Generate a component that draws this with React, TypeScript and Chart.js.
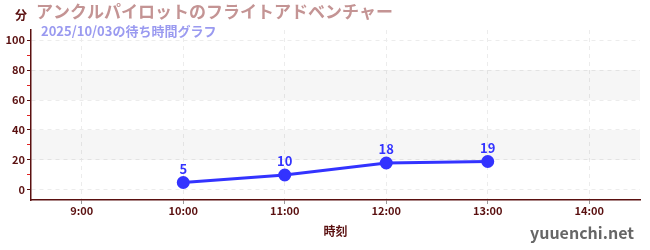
import React, { useEffect, useRef } from "react";
import { Chart, registerables } from "chart.js";

Chart.register(...registerables);

const hours = [10, 11, 12, 13];
const waits = [5, 10, 18, 19];
const xTicks = [9, 10, 11, 12, 13, 14];
const yTicks = [0, 10, 20, 30, 40, 50, 60, 70, 80, 90, 100];
const bands = [[20, 40], [60, 80]];
const title = "アンクルパイロットのフライトアドベンチャー";
const subtitle = "2025/10/03の待ち時間グラフ";
const yUnit = "分";
const xTitle = "時刻";
const watermark = "yuuenchi.net";

const FONT = "'Noto Sans CJK JP', 'Noto Sans', sans-serif";
const DARK = "#5a1010";
const BLUE = "#3333ff";

const overlay = {
  id: "overlay",
  beforeDatasetsDraw(chart: any) {
    const { ctx, chartArea, scales } = chart;
    const y = scales.y;
    ctx.save();
    ctx.fillStyle = "rgba(0,0,0,0.035)";
    for (const [a, b] of bands) {
      const t = y.getPixelForValue(b);
      const bt = y.getPixelForValue(a);
      ctx.fillRect(chartArea.left, t, chartArea.right - chartArea.left, bt - t);
    }
    ctx.restore();
  },
  afterDatasetsDraw(chart: any) {
    const { ctx } = chart;
    const meta = chart.getDatasetMeta(0);
    ctx.save();
    ctx.fillStyle = BLUE;
    ctx.font = `bold 13px ${FONT}`;
    ctx.textAlign = "center";
    ctx.textBaseline = "bottom";
    meta.data.forEach((pt: any, i: number) => {
      ctx.fillText(String(waits[i]), pt.x, pt.y - 7);
    });
    ctx.restore();
  },
  afterDraw(chart: any) {
    const { ctx, chartArea } = chart;
    ctx.save();
    ctx.textBaseline = "middle";
    ctx.textAlign = "left";
    ctx.fillStyle = "#c49494";
    ctx.font = `bold 17px ${FONT}`;
    ctx.fillText(title, 36, 12);
    ctx.fillStyle = "#9a9af0";
    ctx.font = `bold 13px ${FONT}`;
    ctx.fillText(subtitle, 41, 31);
    ctx.fillStyle = DARK;
    ctx.font = `bold 12px ${FONT}`;
    ctx.textAlign = "center";
    ctx.fillText(yUnit, 21, 15);
    ctx.fillText(xTitle, (chartArea.left + chartArea.right) / 2, 231);
    ctx.fillStyle = "#666";
    ctx.font = `bold 16px ${FONT}`;
    ctx.textAlign = "right";
    ctx.fillText(watermark, 634, 233);
    ctx.restore();
  },
};

export default function App() {
  const ref = useRef<HTMLCanvasElement>(null);
  useEffect(() => {
    document.body.style.margin = "0";
    const chart = new Chart(ref.current!, {
      type: "line",
      data: {
        datasets: [
          {
            data: hours.map((h, i) => ({ x: h, y: waits[i] })),
            borderColor: BLUE,
            backgroundColor: BLUE,
            borderWidth: 3,
            pointRadius: 5,
            pointHoverRadius: 5,
            tension: 0,
          },
        ],
      },
      options: {
        animation: false,
        responsive: false,
        layout: { padding: { top: 30, right: 10, left: 0, bottom: 0 } },
        plugins: { legend: { display: false }, tooltip: { enabled: false } },
        scales: {
          x: {
            type: "linear",
            min: 8.5,
            max: 14.5,
            afterBuildTicks: (s: any) => {
              s.ticks = xTicks.map((v) => ({ value: v }));
            },
            afterFit: (s: any) => {
              s.height = 50;
            },
            ticks: {
              autoSkip: false,
              maxRotation: 0,
              color: DARK,
              font: { family: FONT, size: 11, weight: "bold" },
              padding: 0,
              callback: (v: any) => `${v}:00`,
            },
            grid: {
              color: "#ececec",
              tickColor: "#999",
              tickLength: 4,
            },
            border: { color: DARK, width: 1.5, dash: [4, 4] as any },
          } as any,
          y: {
            min: -6.67,
            max: 106.67,
            afterBuildTicks: (s: any) => {
              s.ticks = yTicks.map((v) => ({ value: v }));
            },
            afterFit: (s: any) => {
              s.width = 31;
            },
            ticks: {
              autoSkip: false,
              color: DARK,
              font: { family: FONT, size: 11, weight: "bold" },
              padding: 2,
              callback: (v: any) => (v % 20 === 0 ? String(v) : ""),
            },
            grid: {
              color: (c: any) => (c.tick && c.tick.value % 20 === 0 ? "#ececec" : "rgba(0,0,0,0)"),
              tickColor: (c: any) => (c.tick && c.tick.value % 20 === 0 ? DARK : "#e02020"),
              tickLength: 4,
            },
            border: { color: DARK, width: 1.5, dash: [4, 4] as any },
          } as any,
        },
      } as any,
      plugins: [overlay],
    });
    return () => chart.destroy();
  }, []);
  return (
    <div style={{ width: 650, height: 250 }}>
      <canvas ref={ref} width={650} height={250} style={{ display: "block" }} />
    </div>
  );
}
